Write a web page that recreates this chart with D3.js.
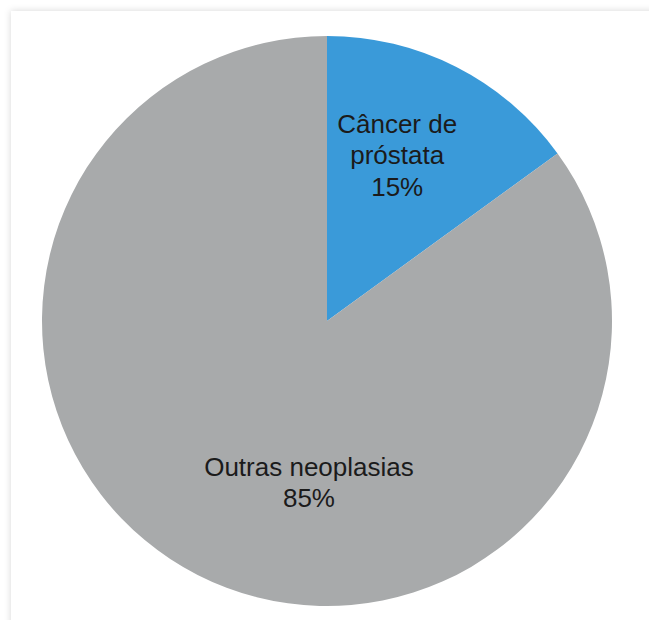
<!DOCTYPE html>
<meta charset="utf-8"/>
<head>
<script src="https://d3js.org/d3.v7.min.js"></script>
<style>
  body { margin: 0; background: #fff; }
  svg { display: block; }
  .lbl { font-family: 'Liberation Sans', Arial, sans-serif; font-size: 26px; fill: #1b1b1b; }
</style>
</head>
<body>
<div id="chart"></div>
<script type="text/javascript">

// data
var categories = ["Câncer de próstata", "Outras neoplasias"];
var values = [15, 85];
var labelLines = [["Câncer de", "próstata", "15%"], ["Outras neoplasias", "85%"]];
var colors = ["#3a9ad9", "#a8aaab"];

var width = 649,
    height = 620,
    cx = 327,
    cy = 321,
    radius = 285;

var svg = d3.select("#chart")
  .append("svg")
  .attr("width", width)
  .attr("height", height);

// card with soft shadow on the top/left
var defs = svg.append("defs");
defs.append("filter")
    .attr("id", "shadow")
    .attr("x", "-5%").attr("y", "-5%")
    .attr("width", "120%").attr("height", "120%")
  .append("feDropShadow")
    .attr("dx", 0).attr("dy", 0)
    .attr("stdDeviation", 3.5)
    .attr("flood-color", "#000")
    .attr("flood-opacity", 0.16);

svg.append("rect")
  .attr("x", 11).attr("y", 11)
  .attr("width", width + 40).attr("height", height + 40)
  .attr("fill", "#fff")
  .attr("filter", "url(#shadow)");

var g = svg.append("g")
  .attr("transform", "translate(" + cx + "," + cy + ")");

var pie = d3.pie().sort(null).value(function(d) { return d; });
var arcs = pie(values);

var arc = d3.arc().innerRadius(0).outerRadius(radius);

g.selectAll("path.slice")
  .data(arcs)
  .enter().append("path")
  .attr("class", "slice")
  .attr("d", arc)
  .attr("fill", function(d, i) { return colors[i]; });

// label placement: polar position for each slice (angle from mid-angle, radius fraction)
var labelArc = [
  { r: 0.632, shift: -0.071 },
  { r: 0.57, shift: -0.36 }
];
var lineH = 31.5;

var labels = g.selectAll("text.lbl")
  .data(arcs)
  .enter().append("text")
  .attr("class", "lbl")
  .attr("text-anchor", "middle")
  .attr("transform", function(d, i) {
    var a = (d.startAngle + d.endAngle) / 2 + labelArc[i].shift;
    var rr = radius * labelArc[i].r;
    return "translate(" + (rr * Math.sin(a)) + "," + (-rr * Math.cos(a)) + ")";
  });

labels.each(function(d, i) {
  var lines = labelLines[i];
  var t = d3.select(this);
  lines.forEach(function(s, k) {
    t.append("tspan")
      .attr("x", 0)
      .attr("y", (k - (lines.length - 1) / 2) * lineH + 9)
      .text(s);
  });
});

</script>
</body>
